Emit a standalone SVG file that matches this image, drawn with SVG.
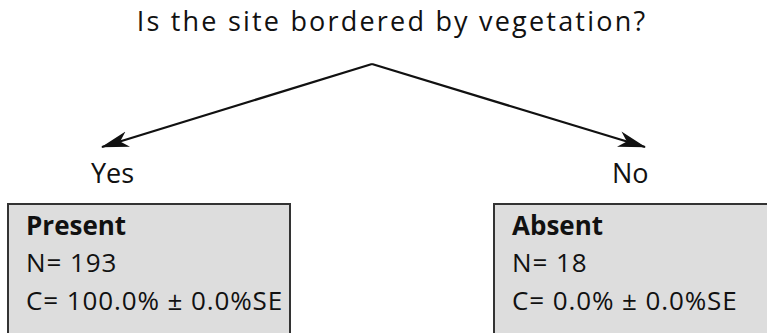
<svg xmlns="http://www.w3.org/2000/svg" width="767" height="333" viewBox="0 0 767 333">
<style>
text{font-family:"Open Sans","Liberation Sans",sans-serif;fill:#111}
.t{font-size:27px;letter-spacing:2.2px}
.yn{font-size:27px}
.b{font-size:26px;letter-spacing:0.9px}
.bold{font-weight:bold;letter-spacing:0}
.box{fill:#dddddd;stroke:#333;stroke-width:2}
.c{fill:none;stroke:#111;stroke-width:2.3}
</style>
<defs>
<marker id="ah" viewBox="0 0 28 18" refX="27" refY="9" markerWidth="28" markerHeight="18" markerUnits="userSpaceOnUse" orient="auto">
<path d="M0,1 L28,9 L0,17 L8,9 Z" fill="#111"/>
</marker>
</defs>
<text class="t" x="392" y="31" text-anchor="middle">Is the site bordered by vegetation?</text>
<g id="connectors">
<path class="c" d="M372,64 L102,147" marker-end="url(#ah)"/>
<path class="c" d="M372,64 L645,147" marker-end="url(#ah)"/>
</g>
<text class="yn" x="91" y="183">Yes</text>
<text class="yn" x="612" y="183">No</text>
<g id="present">
<rect class="box" x="8" y="204" width="282" height="140"/>
<text class="b bold" x="26" y="235">Present</text>
<text class="b" x="26" y="272">N= 193</text>
<text class="b" x="26" y="310">C= 100.0% ± 0.0%SE</text>
</g>
<g id="absent">
<rect class="box" x="494" y="204" width="290" height="140"/>
<text class="b bold" x="512" y="235">Absent</text>
<text class="b" x="512" y="272">N= 18</text>
<text class="b" x="512" y="310">C= 0.0% ± 0.0%SE</text>
</g>
</svg>
